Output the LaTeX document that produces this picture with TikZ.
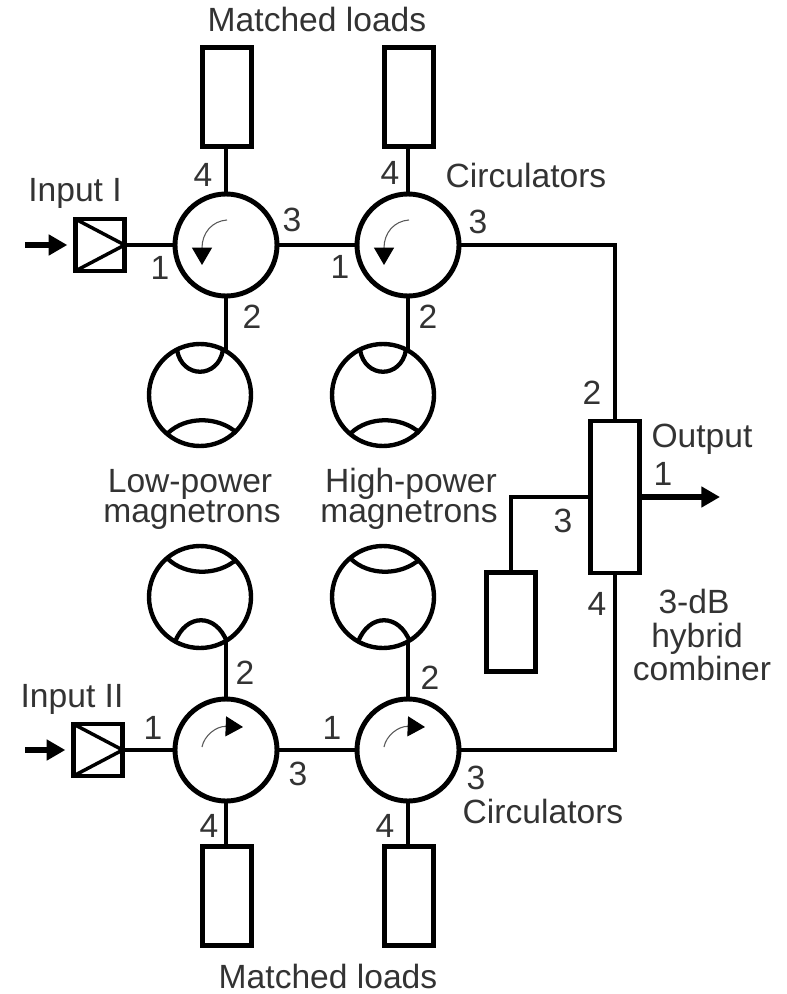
\documentclass[tikz,border=0pt]{standalone}
\usepackage{fontspec}
\setmainfont{Liberation Sans}
\usetikzlibrary{arrows.meta, calc}
\tikzset{
  wire/.style={line width=3.7pt, line join=miter},
  thinwire/.style={line width=3pt},
  circulator/.style={circle, draw, line width=3.7pt, inner sep=0pt, outer sep=0pt, minimum size=76.5pt},
  magnetron/.style={circle, draw, line width=3.3pt, inner sep=0pt, outer sep=0pt, minimum size=76.5pt},
  load/.style={rectangle, draw, line width=3.4pt, inner sep=0pt, outer sep=0pt, minimum width=36.5pt, minimum height=74pt},
  isolator/.style={rectangle, draw, line width=3.4pt, inner sep=0pt, outer sep=0pt, minimum width=37pt, minimum height=39pt},
  hybrid/.style={rectangle, draw, line width=3.4pt, inner sep=0pt, outer sep=0pt, minimum width=37pt, minimum height=114pt},
  lbl/.style={inner sep=0pt, text=black!80, text height=18pt, text depth=0pt, font=\fontsize{25.2pt}{27pt}\selectfont},
  bigarrow/.style={line width=5pt, -{Triangle[length=14pt,width=15pt]}},
  flowarrow/.style={line width=0.8pt, black!65, -{Triangle[length=13pt,width=15pt,black]}},
  capline/.style={line width=3.2pt},
}
\newcommand{\capdown}[1]{
  \draw[capline] ($(#1)+(-23,-45)$) .. controls ($(#1)+(-18,-16)$) and ($(#1)+(18,-16)$) .. ($(#1)+(23,-45)$);
  \draw[capline] ($(#1)+(-32,38)$) .. controls ($(#1)+(-14,21)$) and ($(#1)+(18,21)$) .. ($(#1)+(37,38)$);
}
\newcommand{\capup}[1]{
  \draw[capline] ($(#1)+(-32,-38)$) .. controls ($(#1)+(-14,-21)$) and ($(#1)+(18,-21)$) .. ($(#1)+(37,-38)$);
  \draw[capline] ($(#1)+(-25,45)$) .. controls ($(#1)+(-14,16)$) and ($(#1)+(16,16)$) .. ($(#1)+(27,45)$);
}
\begin{document}
\begin{tikzpicture}[x=0.75pt,y=-0.75pt]
\useasboundingbox (0,0) rectangle (787,994);

% Upper branch
\node[circulator] (circA) at (226,245) {};
\node[circulator] (circB) at (408,245) {};
\node[magnetron] (magA) at (200,395) {};
\node[magnetron] (magB) at (383,395) {};
\node[load] (loadA) at (227,97) {};
\node[load] (loadB) at (409,97) {};
\node[isolator] (inA) at (100,245) {};

% Lower branch
\node[circulator] (circC) at (226,750) {};
\node[circulator] (circD) at (408,750) {};
\node[magnetron] (magC) at (200,597) {};
\node[magnetron] (magD) at (383,597) {};
\node[load] (loadC) at (227,896) {};
\node[load] (loadD) at (409,896) {};
\node[isolator] (inB) at (98,750) {};

% Combiner
\node[hybrid] (hyb) at (615,497) {};
\node[load] (loadE) at (511,622) {};

\capdown{magA}
\capdown{magB}
\capup{magC}
\capup{magD}

% Isolator marks
\draw[line width=2.6pt] (inA.north west) -- (inA.east) -- (inA.south west);
\draw[line width=2.6pt] (inB.north west) -- (inB.east) -- (inB.south west);

\coordinate (startA) at (25,245);
\coordinate (startB) at (25,750);
\coordinate (outEnd) at (720,497);
\draw[bigarrow, shorten >=6pt] (startA) -- (inA.west);
\draw[bigarrow, shorten >=6pt] (startB) -- (inB.west);
\draw[bigarrow] (hyb.east) -- (outEnd);

\draw[thinwire] (inA.east) -- (circA.west);
\draw[thinwire] (inB.east) -- (circC.west);
\draw[thinwire] (circA.east) -- (circB.west);
\draw[thinwire] (circC.east) -- (circD.west);
\draw[wire] (circA.north) -- (circA.north |- loadA.south);
\draw[wire] (circB.north) -- (circB.north |- loadB.south);
\draw[wire] (circC.south) -- (circC.south |- loadC.north);
\draw[wire] (circD.south) -- (circD.south |- loadD.north);
\draw[wire] (circA.south) -- (circA.south |- magA.60);
\draw[wire] (circB.south) -- (circB.south |- magB.60);
\draw[wire] (circC.north) -- (circC.north |- magC.-60);
\draw[wire] (circD.north) -- (circD.north |- magD.-60);
\draw[wire] (circB.east) -| (hyb.north);
\draw[wire] (hyb.south) |- (circD.east);
\draw[wire] (loadE.north) |- (hyb.west);

% Circulation arrows
\draw[flowarrow] ($(circA)+(1,-25)$) .. controls ($(circA)+(-14,-24)$) and ($(circA)+(-24,-12)$) .. ($(circA)+(-24,20)$);
\draw[flowarrow] ($(circB)+(1,-25)$) .. controls ($(circB)+(-14,-24)$) and ($(circB)+(-24,-12)$) .. ($(circB)+(-24,20)$);
\draw[flowarrow] ($(circC)+(-24,-3)$) .. controls ($(circC)+(-22,-14)$) and ($(circC)+(-10,-24)$) .. ($(circC)+(17,-23)$);
\draw[flowarrow] ($(circD)+(-24,-3)$) .. controls ($(circD)+(-22,-14)$) and ($(circD)+(-10,-24)$) .. ($(circD)+(17,-23)$);

% Labels
\node[lbl] (txtLoadsA) at (317,20) {Matched loads};
\node[lbl] (txtLoadsB) at (328,976) {Matched loads};
\node[lbl] (txtInA) at (75,190) {Input I};
\node[lbl] (txtInB) at (72,695) {Input II};
\node[lbl] (txtCircA) at (526,176) {Circulators};
\node[lbl] (txtCircB) at (543,811) {Circulators};
\node[lbl] (txtLowA) at (190,480) {Low-power};
\node[lbl] (txtLowB) at (192,510) {magnetrons};
\node[lbl] (txtHighA) at (411,480) {High-power};
\node[lbl] (txtHighB) at (409,510) {magnetrons};
\node[lbl] (txtOut) at (702,435) {Output};
\node[lbl] (txtHybA) at (694,601) {3-dB};
\node[lbl] (txtHybB) at (697,635) {hybrid};
\node[lbl] (txtHybC) at (702,668) {combiner};

\node[lbl] (n4a) at (203,175) {4};
\node[lbl] (n3a) at (292,220) {3};
\node[lbl] (n1a) at (160,268) {1};
\node[lbl] (n2a) at (252,317) {2};
\node[lbl] (n4b) at (390,173) {4};
\node[lbl] (n3b) at (478,222) {3};
\node[lbl] (n1b) at (340,267) {1};
\node[lbl] (n2b) at (428,317) {2};
\node[lbl] (n1c) at (153,727) {1};
\node[lbl] (n2c) at (245,672) {2};
\node[lbl] (n3c) at (298,773) {3};
\node[lbl] (n4c) at (209,825) {4};
\node[lbl] (n1d) at (332,727) {1};
\node[lbl] (n2d) at (430,677) {2};
\node[lbl] (n3d) at (476,777) {3};
\node[lbl] (n4d) at (385,825) {4};
\node[lbl] (h2) at (592,392) {2};
\node[lbl] (h1) at (663,473) {1};
\node[lbl] (h3) at (563,520) {3};
\node[lbl] (h4) at (597,603) {4};
\end{tikzpicture}
\end{document}
